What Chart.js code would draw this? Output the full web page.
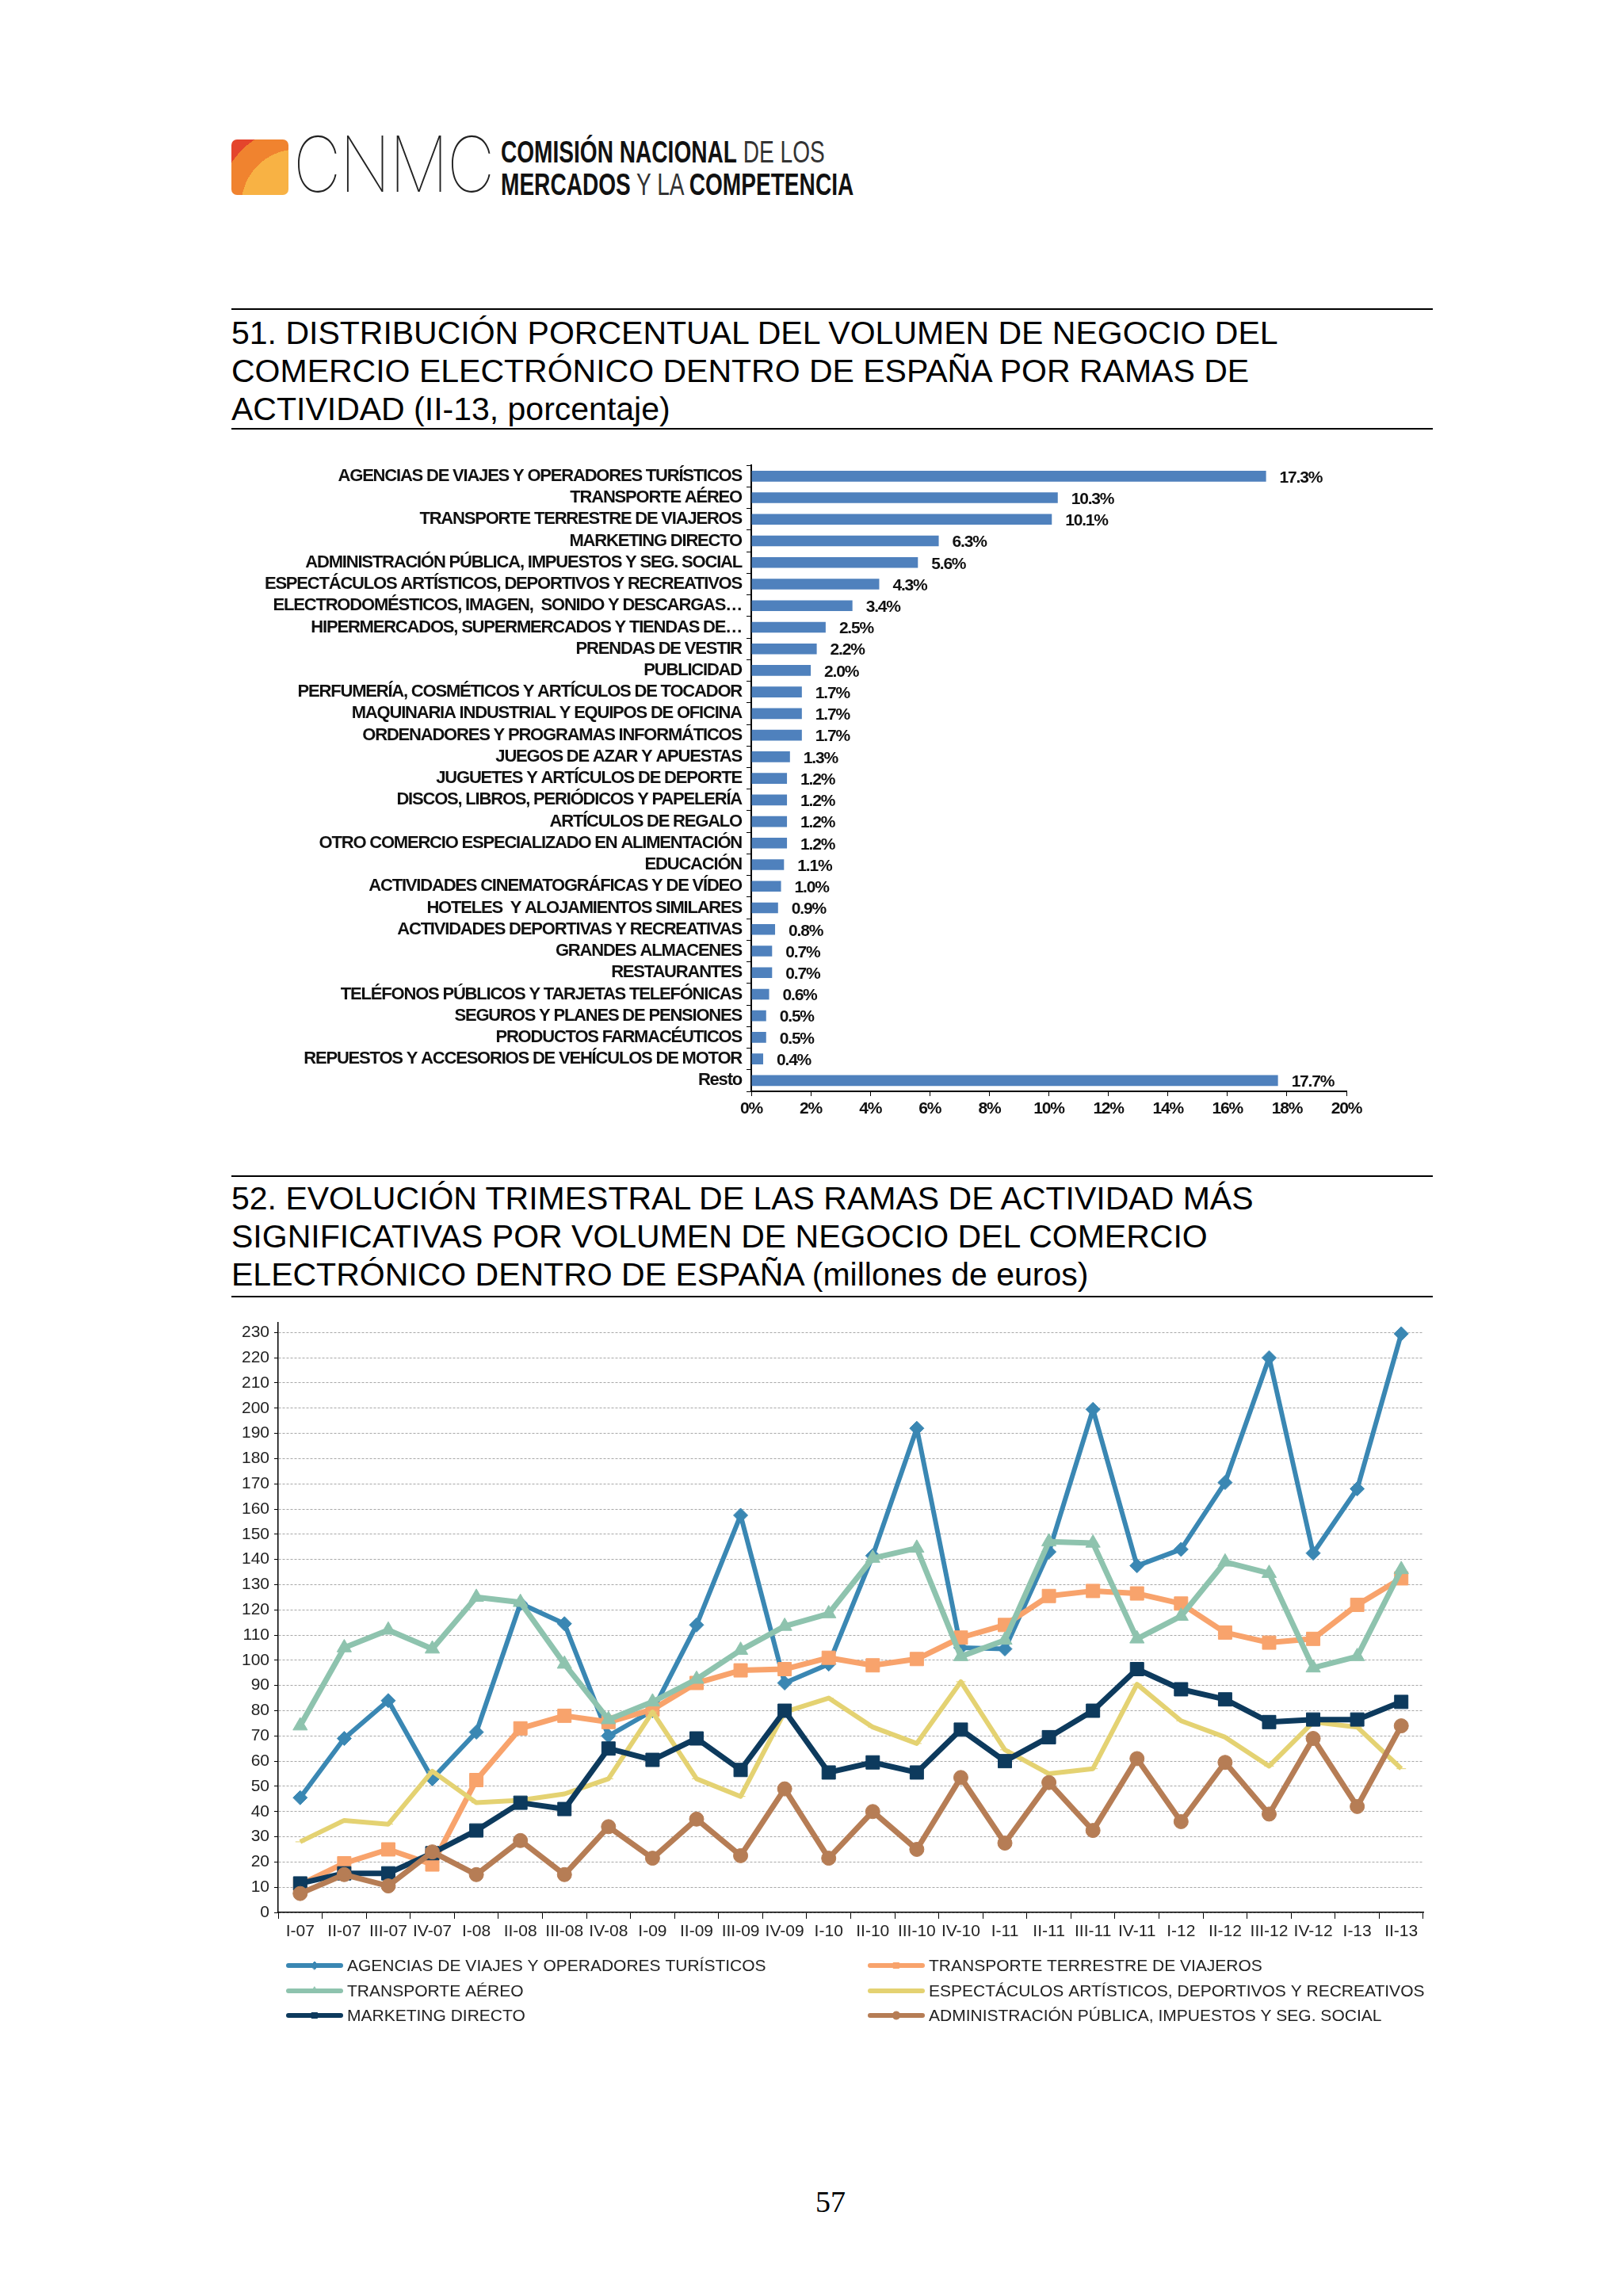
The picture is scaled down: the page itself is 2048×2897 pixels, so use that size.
<!DOCTYPE html>
<html lang="es">
<head>
<meta charset="utf-8">
<title>CNMC - Comercio electrónico</title>
<script src="https://cdn.jsdelivr.net/npm/chart.js@4.4.1/dist/chart.umd.min.js"></script>
<style>
  html, body { margin: 0; padding: 0; background: #fff; }
  body { position: relative; width: 2048px; height: 2897px; overflow: hidden; font-family: "Liberation Sans", Arial, sans-serif; color: #000; }
  .abs { position: absolute; }
  .logo-box { left: 292px; top: 176px; width: 72px; height: 70px; border-radius: 7px;
    background: radial-gradient(circle at 115% 118%, #F8B244 0 60%, #F0832F 60% 84%, #E4452C 84%); }
  .logo-cnmc { left: 370px; top: 152px; font-family: Inter, "Open Sans", sans-serif; font-weight: 100; font-size: 97px; line-height: 110px; color: #222; transform: scaleX(0.86); transform-origin: left center; letter-spacing: -2px; }
  .logo-txt { left: 632px; font-family: "Liberation Sans", Arial, sans-serif; font-size: 39px; line-height: 40px; color: #111; white-space: nowrap; transform: scaleX(0.72); transform-origin: left center; }
  .logo-txt b { font-weight: bold; }
  .logo-txt span { font-weight: normal; color: #333; }
  .rule { left: 292px; width: 1516px; height: 2px; background: #000; }
  .title { left: 292px; font-size: 41px; line-height: 48px; white-space: nowrap; }
  .chartbox { position: absolute; }
  .pagenum { left: 1000px; width: 96px; text-align: center; top: 2754px; font-family: "Liberation Serif", "Times New Roman", serif; font-size: 38px; line-height: 48px; }
</style>
</head>
<body>

<div class="abs logo-box"></div>
<div class="abs logo-cnmc">CNMC</div>
<div class="abs logo-txt" style="top:172px"><b>COMISIÓN NACIONAL</b> <span>DE LOS</span></div>
<div class="abs logo-txt" style="top:213px"><b>MERCADOS</b> <span>Y LA</span> <b>COMPETENCIA</b></div>

<div class="abs rule" style="top:389px"></div>
<div class="abs title" style="top:396px">51. DISTRIBUCIÓN PORCENTUAL DEL VOLUMEN DE NEGOCIO DEL<br>COMERCIO ELECTRÓNICO DENTRO DE ESPAÑA POR RAMAS DE<br>ACTIVIDAD (II-13, porcentaje)</div>
<div class="abs rule" style="top:540px"></div>

<div class="chartbox" style="left:292px; top:568px; width:1516px; height:852px;">
  <canvas id="barChart"></canvas>
</div>

<div class="abs rule" style="top:1483px"></div>
<div class="abs title" style="top:1488px">52. EVOLUCIÓN TRIMESTRAL DE LAS RAMAS DE ACTIVIDAD MÁS<br>SIGNIFICATIVAS POR VOLUMEN DE NEGOCIO DEL COMERCIO<br>ELECTRÓNICO DENTRO DE ESPAÑA (millones de euros)</div>
<div class="abs rule" style="top:1635px"></div>

<div class="chartbox" style="left:292px; top:1650px; width:1530px; height:930px;">
  <canvas id="lineChart"></canvas>
</div>

<div class="abs pagenum">57</div>

<script>
// ---- Chart 51: shares by activity (II-13, %) ----
const branches = [
  'AGENCIAS DE VIAJES Y OPERADORES TURÍSTICOS',
  'TRANSPORTE AÉREO',
  'TRANSPORTE TERRESTRE DE VIAJEROS',
  'MARKETING DIRECTO',
  'ADMINISTRACIÓN PÚBLICA, IMPUESTOS Y SEG. SOCIAL',
  'ESPECTÁCULOS ARTÍSTICOS, DEPORTIVOS Y RECREATIVOS',
  'ELECTRODOMÉSTICOS, IMAGEN,  SONIDO Y DESCARGAS…',
  'HIPERMERCADOS, SUPERMERCADOS Y TIENDAS DE…',
  'PRENDAS DE VESTIR',
  'PUBLICIDAD',
  'PERFUMERÍA, COSMÉTICOS Y ARTÍCULOS DE TOCADOR',
  'MAQUINARIA INDUSTRIAL Y EQUIPOS DE OFICINA',
  'ORDENADORES Y PROGRAMAS INFORMÁTICOS',
  'JUEGOS DE AZAR Y APUESTAS',
  'JUGUETES Y ARTÍCULOS DE DEPORTE',
  'DISCOS, LIBROS, PERIÓDICOS Y PAPELERÍA',
  'ARTÍCULOS DE REGALO',
  'OTRO COMERCIO ESPECIALIZADO EN ALIMENTACIÓN',
  'EDUCACIÓN',
  'ACTIVIDADES CINEMATOGRÁFICAS Y DE VÍDEO',
  'HOTELES  Y ALOJAMIENTOS SIMILARES',
  'ACTIVIDADES DEPORTIVAS Y RECREATIVAS',
  'GRANDES ALMACENES',
  'RESTAURANTES',
  'TELÉFONOS PÚBLICOS Y TARJETAS TELEFÓNICAS',
  'SEGUROS Y PLANES DE PENSIONES',
  'PRODUCTOS FARMACÉUTICOS',
  'REPUESTOS Y ACCESORIOS DE VEHÍCULOS DE MOTOR',
  'Resto'
];
const shares = [17.3, 10.3, 10.1, 6.3, 5.6, 4.3, 3.4, 2.5, 2.2, 2.0, 1.7, 1.7, 1.7, 1.3,
  1.2, 1.2, 1.2, 1.2, 1.1, 1.0, 0.9, 0.8, 0.7, 0.7, 0.6, 0.5, 0.5, 0.4, 17.7];
const shareTicks = [0, 2, 4, 6, 8, 10, 12, 14, 16, 18, 20];

// ---- Chart 52: quarterly turnover (millions of euros) ----
const quarters = ['I-07', 'II-07', 'III-07', 'IV-07', 'I-08', 'II-08', 'III-08', 'IV-08',
  'I-09', 'II-09', 'III-09', 'IV-09', 'I-10', 'II-10', 'III-10', 'IV-10',
  'I-11', 'II-11', 'III-11', 'IV-11', 'I-12', 'II-12', 'III-12', 'IV-12', 'I-13', 'II-13'];
const agencias = [45.5, 69, 84, 53, 71.5, 122.5, 114.5, 70, 80, 114, 157.5, 91, 98.5, 141.5,
  192, 105, 104.5, 143, 199.5, 137.5, 144, 170.5, 220, 142.5, 168, 229.5];
const terrestre = [11, 19.5, 25, 19, 52.5, 73, 78, 75.5, 80.5, 91, 96, 96.5, 101, 98,
  100.5, 109, 114, 125.5, 127.5, 126.5, 122.5, 111, 107, 108.5, 122, 132.5];
const aereo = [74, 105, 112, 104.5, 125, 123, 98.5, 76.5, 83.5, 92.5, 104, 113.5, 118.5, 140.5,
  144.5, 101.5, 108, 147, 146.5, 108.5, 117.5, 139, 134.5, 97, 101.5, 136];
const espectaculos = [28, 36.5, 35, 56, 43.5, 44.5, 47, 53, 79.5, 53, 46, 79.5, 85, 73.5,
  67, 91.5, 64.5, 55, 57, 90.5, 76, 69.5, 58, 75.5, 73.5, 57];
const marketing = [11.5, 15.5, 15.5, 23.5, 32.5, 43.5, 41, 65, 60.5, 69, 56.5, 80, 55.5, 59.5,
  55.5, 72.5, 60, 69.5, 80, 96.5, 88.5, 84.5, 75.5, 76.5, 76.5, 83.5];
const administracion = [7.5, 15, 10.5, 24, 15, 28.5, 15, 34, 21.5, 37, 22.5, 49, 21.5, 40,
  25, 53.5, 27.5, 51.5, 32.5, 61, 36, 59.5, 39, 69, 42, 74];

const SANS = '"Liberation Sans", Arial, sans-serif';
Chart.defaults.font.family = SANS;
Chart.defaults.color = '#000';

// the bar chart text in the source is tight and heavy: squeeze the letters a bit
const tightText = {
  id: 'tightText',
  beforeDraw(chart) { chart.ctx.letterSpacing = '-1.2px'; },
  afterDraw(chart) { chart.ctx.letterSpacing = '0px'; }
};

// value labels at the end of each bar
const barValueLabels = {
  id: 'barValueLabels',
  afterDatasetsDraw(chart) {
    const ctx = chart.ctx;
    const meta = chart.getDatasetMeta(0);
    ctx.save();
    ctx.font = 'bold 21px ' + SANS;
    ctx.fillStyle = '#111';
    ctx.textAlign = 'left';
    ctx.textBaseline = 'middle';
    meta.data.forEach((bar, i) => {
      ctx.fillText(shares[i].toFixed(1) + '%', bar.x + 17, bar.y + 2);
    });
    ctx.restore();
  }
};

new Chart(document.getElementById('barChart'), {
  type: 'bar',
  data: {
    labels: branches,
    datasets: [{
      data: shares,
      backgroundColor: '#4F81BD',
      barPercentage: 0.5,
      categoryPercentage: 1.0
    }]
  },
  options: {
    indexAxis: 'y',
    responsive: true,
    maintainAspectRatio: false,
    animation: false,
    layout: { padding: { top: 11, right: 109, bottom: 0, left: 0 } },
    plugins: { legend: { display: false }, tooltip: { enabled: false } },
    scales: {
      x: {
        min: 0,
        max: 20,
        afterFit: (scale) => { scale.height = 43; },
        afterBuildTicks: (scale) => { scale.ticks = shareTicks.map(v => ({ value: v })); },
        ticks: {
          font: { size: 21, weight: 'bold' },
          color: '#111',
          padding: 4,
          callback: (v) => v + '%'
        },
        grid: { drawOnChartArea: false, drawTicks: true, tickLength: 6, tickColor: '#000' },
        border: { display: true, color: '#000', width: 2 }
      },
      y: {
        afterFit: (scale) => { scale.width = 656; },
        ticks: {
          autoSkip: false,
          font: { size: 22, weight: 'bold' },
          color: '#111',
          padding: 6
        },
        grid: { offset: true, drawOnChartArea: false, drawTicks: true, tickLength: 6, tickColor: '#000' },
        border: { display: true, color: '#000', width: 2 }
      }
    }
  },
  plugins: [tightText, barValueLabels]
});

// two-column legend under the line chart, same layout as the source
const gridLegend = {
  id: 'gridLegend',
  afterDraw(chart) {
    const ctx = chart.ctx;
    const area = chart.chartArea;
    const colX = [72, 806];
    const rowY = [67, 99, 130];
    chart.data.datasets.forEach((ds, i) => {
      const x = colX[i % 2];
      const y = area.bottom + rowY[Math.floor(i / 2)];
      ctx.save();
      ctx.strokeStyle = ds.borderColor;
      ctx.fillStyle = ds.borderColor;
      ctx.lineWidth = 6;
      ctx.lineCap = 'round';
      ctx.beginPath();
      ctx.moveTo(x, y);
      ctx.lineTo(x + 66, y);
      ctx.stroke();
      ctx.lineWidth = 1;
      Chart.helpers.drawPoint(ctx, { pointStyle: ds.pointStyle, radius: 5, borderWidth: 1, rotation: 0 }, x + 33, y);
      ctx.fillStyle = '#222';
      ctx.font = '21px ' + SANS;
      ctx.textAlign = 'left';
      ctx.textBaseline = 'middle';
      ctx.fillText(ds.label, x + 74, y + 1);
      ctx.restore();
    });
  }
};

function series(label, values, color, style, radius, width, order) {
  return {
    label: label,
    data: values,
    borderColor: color,
    backgroundColor: color,
    pointBackgroundColor: color,
    pointBorderColor: color,
    pointStyle: style,
    pointRadius: radius,
    pointBorderWidth: 1,
    borderWidth: width,
    borderJoinStyle: 'round',
    tension: 0,
    order: order
  };
}

new Chart(document.getElementById('lineChart'), {
  type: 'line',
  data: {
    labels: quarters,
    datasets: [
      series('AGENCIAS DE VIAJES Y OPERADORES TURÍSTICOS', agencias, '#3A87B3', 'rectRot', 9, 6, 6),
      series('TRANSPORTE TERRESTRE DE VIAJEROS', terrestre, '#F8A36C', 'rect', 12, 7, 5),
      series('TRANSPORTE AÉREO', aereo, '#8EC3AE', 'triangle', 10.5, 7, 4),
      series('ESPECTÁCULOS ARTÍSTICOS, DEPORTIVOS Y RECREATIVOS', espectaculos, '#E4D272', 'line', 6, 6, 3),
      series('MARKETING DIRECTO', marketing, '#0D3A5D', 'rect', 12, 7, 2),
      series('ADMINISTRACIÓN PÚBLICA, IMPUESTOS Y SEG. SOCIAL', administracion, '#B67D55', 'circle', 9, 7, 1)
    ]
  },
  options: {
    responsive: true,
    maintainAspectRatio: false,
    animation: false,
    layout: { padding: { top: 11, right: 26, bottom: 117, left: 0 } },
    plugins: { legend: { display: false }, tooltip: { enabled: false } },
    scales: {
      x: {
        offset: true,
        afterFit: (scale) => { scale.height = 50; },
        ticks: {
          autoSkip: false,
          maxRotation: 0,
          font: { size: 21 },
          color: '#222',
          padding: 4
        },
        grid: { offset: true, drawOnChartArea: false, drawTicks: true, tickLength: 8, tickColor: '#000' },
        border: { display: true, color: '#000', width: 1.5 }
      },
      y: {
        min: 0,
        max: 234,
        afterFit: (scale) => { scale.width = 59; },
        ticks: {
          stepSize: 10,
          includeBounds: false,
          font: { size: 21 },
          color: '#222',
          padding: 6
        },
        grid: { color: '#a8a8a8', lineWidth: 1, drawTicks: true, tickLength: 5, tickColor: '#000' },
        border: { display: true, color: '#000', width: 1.5, dash: [3, 2] }
      }
    }
  },
  plugins: [gridLegend]
});
</script>
</body>
</html>
